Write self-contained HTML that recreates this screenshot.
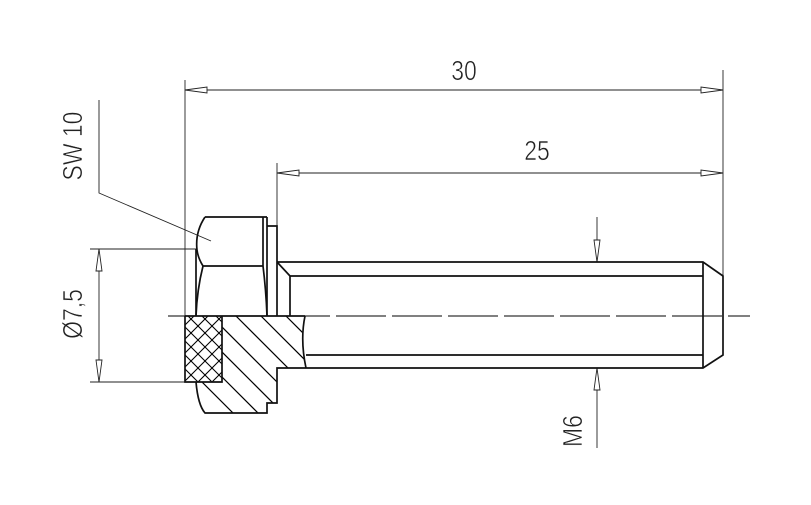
<!DOCTYPE html>
<html><head><style>html,body{margin:0;padding:0;background:#fff}svg{display:block}</style></head>
<body>
<svg width="811" height="505" viewBox="0 0 811 505" xmlns="http://www.w3.org/2000/svg">
<defs>
<clipPath id="sec"><path d="M223,316 L305,316 Q300,340 306,368 L277,368 L277,403 L267,403 L267,413 L205,413 Q198,405 196,382 L222,382 L222,316 Z"/></clipPath>
<clipPath id="xh"><rect x="185" y="316" width="37" height="66"/></clipPath>
</defs>
<g fill="none" stroke="#222" stroke-width="0.9">
<line x1="185" y1="80" x2="185" y2="382"/>
<line x1="723" y1="70" x2="723" y2="276"/>
<line x1="277" y1="163" x2="277" y2="226"/>
<line x1="90" y1="249" x2="196" y2="249"/>
<line x1="90" y1="382" x2="185" y2="382"/>
<line x1="185" y1="90" x2="723" y2="90"/>
<line x1="277" y1="173" x2="723" y2="173"/>
<line x1="99" y1="249" x2="99" y2="382"/>
<line x1="597" y1="217" x2="597" y2="262"/>
<line x1="597" y1="368" x2="597" y2="448"/>
<polyline points="99,100 99,193 211,241"/>
<path d="M168,316 H750" stroke="#000" stroke-width="1.1" stroke-dasharray="50,6"/>
</g>
<g fill="#fff" stroke="#222" stroke-width="0.9">
<polygon points="185,90 207,87 207,93"/>
<polygon points="723,90 701,87 701,93"/>
<polygon points="277,173 299,170 299,176"/>
<polygon points="723,173 701,170 701,176"/>
<polygon points="99,249 96,271 102,271"/>
<polygon points="99,382 96,360 102,360"/>
<polygon points="597,262 594,240 600,240"/>
<polygon points="597,368 594,390 600,390"/>
</g>
<g clip-path="url(#sec)" stroke="#000" stroke-width="1.2">
<path d="M120,300 l140,140 M145,300 l140,140 M170,300 l140,140 M195,300 l140,140 M220,300 l140,140 M245,300 l140,140 M270,300 l140,140 M295,300 l140,140"/>
</g>
<g clip-path="url(#xh)" stroke="#000" stroke-width="1.1">
<path d="M130,300 l100,100 M144,300 l100,100 M158,300 l100,100 M172,300 l100,100 M186,300 l100,100 M200,300 l100,100 M214,300 l100,100 M116,300 l100,100 M102,300 l100,100"/>
<path d="M280,300 l-100,100 M266,300 l-100,100 M252,300 l-100,100 M238,300 l-100,100 M224,300 l-100,100 M210,300 l-100,100 M196,300 l-100,100 M294,300 l-100,100 M308,300 l-100,100"/>
</g>
<g fill="none" stroke="#111" stroke-width="1.7" stroke-linejoin="miter">
<path d="M205,217 H267 M205,217 Q195,232 197,250 Q198,258 203,266 H263 M203,266 Q197,290 196,316 M263,266 Q266,290 267,316"/>
<line x1="263" y1="217" x2="263" y2="266"/>
<line x1="196" y1="249" x2="196" y2="316"/>
<path d="M267,226 H277 V316 M267,217 V316"/>
<path d="M277,262 H703 L723,276 V355 L703,368 H306"/>
<path d="M277,262 L290,276 H703 M290,276 V316 M306,355 H703 M703,262 V368"/>
<path d="M185,316 H305 M185,316 V382 H222 V316 M305,316 Q300,340 306,368 M306,368 H277 V403 H267 V413 H205 Q198,405 196,382"/>
</g>
<g font-family="Liberation Sans, sans-serif" font-size="28" fill="#222" stroke="#fff" stroke-width="0.6">
<text x="464" y="80" text-anchor="middle" transform="translate(464 0) scale(0.82 1) translate(-464 0)">30</text>
<text x="537" y="160" text-anchor="middle" transform="translate(537 0) scale(0.82 1) translate(-537 0)">25</text>
<text transform="translate(82 146) rotate(-90) scale(0.82 1)" text-anchor="middle">SW 10</text>
<text transform="translate(82 314) rotate(-90) scale(0.82 1)" text-anchor="middle">Ø7,5</text>
<text transform="translate(582 431) rotate(-90) scale(0.82 1)" text-anchor="middle">M6</text>
</g>
</svg>
</body></html>
